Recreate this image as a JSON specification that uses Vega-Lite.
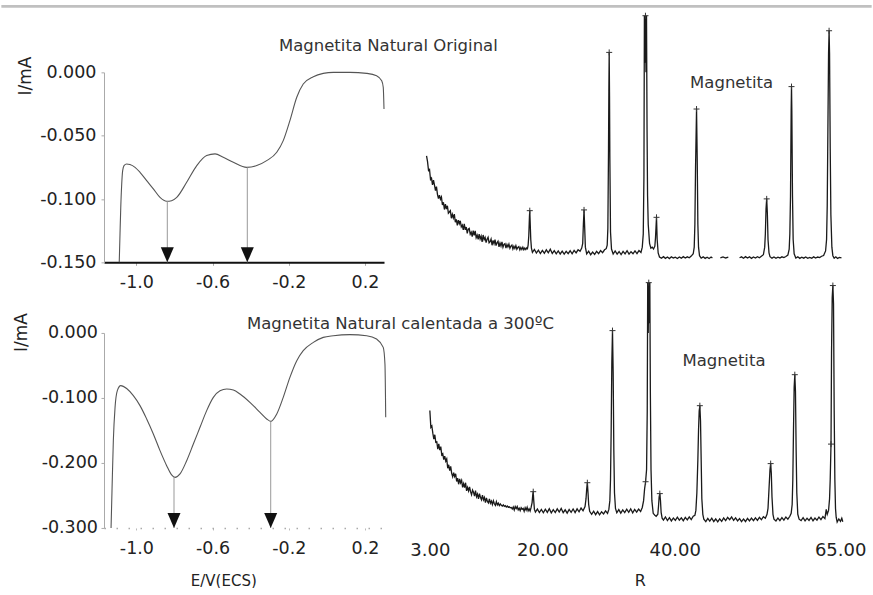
{
  "$schema": "https://vega.github.io/schema/vega-lite/v6.json",
  "background": "white",
  "padding": {"left": 0, "top": 4.35, "right": 0, "bottom": 0},
  "config": {
    "view": {"stroke": null},
    "font": "DejaVu Sans",
    "axis": {"labelFont": "DejaVu Sans", "labelFontSize": 17.5, "labelColor": "#222", "titleFont": "DejaVu Sans", "titleFontWeight": "normal", "titleColor": "#222", "grid": false, "labelFlush": false, "labelOverlap": false, "tickColor": "#999", "tickSize": 3, "domainColor": "#999", "domainWidth": 1}
  },
  "datasets": {
    "cv1": [
      {"E": -1.090, "I": -0.150}, {"E": -1.086, "I": -0.1276}, {"E": -1.082, "I": -0.1066}, {"E": -1.077, "I": -0.0881}, {"E": -1.072, "I": -0.0776}, {"E": -1.065, "I": -0.0736}, {"E": -1.051, "I": -0.0723}, {"E": -1.034, "I": -0.0728}, {"E": -1.007, "I": -0.0750}, {"E": -0.981, "I": -0.0789}, {"E": -0.946, "I": -0.0855}, {"E": -0.911, "I": -0.0920}, {"E": -0.876, "I": -0.0987}, {"E": -0.841, "I": -0.1018}, {"E": -0.815, "I": -0.1013}, {"E": -0.788, "I": -0.0987}, {"E": -0.736, "I": -0.0868}, {"E": -0.683, "I": -0.0736}, {"E": -0.631, "I": -0.0657}, {"E": -0.587, "I": -0.0644}, {"E": -0.544, "I": -0.0671}, {"E": -0.491, "I": -0.0710}, {"E": -0.421, "I": -0.0750}, {"E": -0.368, "I": -0.0736}, {"E": -0.316, "I": -0.0697}, {"E": -0.263, "I": -0.0631}, {"E": -0.229, "I": -0.0539}, {"E": -0.194, "I": -0.0381}, {"E": -0.158, "I": -0.0197}, {"E": -0.124, "I": -0.0092}, {"E": -0.071, "I": -0.0034}, {"E": -0.019, "I": -0.0008}, {"E": 0.034, "I": 0}, {"E": 0.121, "I": 0}, {"E": 0.209, "I": -0.0008}, {"E": 0.261, "I": -0.0026}, {"E": 0.288, "I": -0.0066}, {"E": 0.296, "I": -0.0118}, {"E": 0.300, "I": -0.0289}
    ],
    "cv2": [
      {"E": -1.133, "I": -0.300}, {"E": -1.128, "I": -0.2426}, {"E": -1.121, "I": -0.1657}, {"E": -1.112, "I": -0.1145}, {"E": -1.100, "I": -0.0888}, {"E": -1.082, "I": -0.0811}, {"E": -1.051, "I": -0.0855}, {"E": -1.016, "I": -0.0965}, {"E": -0.981, "I": -0.1118}, {"E": -0.946, "I": -0.1323}, {"E": -0.911, "I": -0.1554}, {"E": -0.876, "I": -0.1811}, {"E": -0.841, "I": -0.2042}, {"E": -0.815, "I": -0.2185}, {"E": -0.797, "I": -0.2222}, {"E": -0.771, "I": -0.2169}, {"E": -0.736, "I": -0.1965}, {"E": -0.701, "I": -0.1709}, {"E": -0.666, "I": -0.1452}, {"E": -0.631, "I": -0.1195}, {"E": -0.596, "I": -0.0991}, {"E": -0.561, "I": -0.0888}, {"E": -0.526, "I": -0.0862}, {"E": -0.491, "I": -0.0878}, {"E": -0.456, "I": -0.0940}, {"E": -0.404, "I": -0.1068}, {"E": -0.351, "I": -0.1222}, {"E": -0.316, "I": -0.1323}, {"E": -0.295, "I": -0.1360}, {"E": -0.263, "I": -0.1246}, {"E": -0.229, "I": -0.0991}, {"E": -0.194, "I": -0.0683}, {"E": -0.158, "I": -0.0426}, {"E": -0.124, "I": -0.0272}, {"E": -0.071, "I": -0.0145}, {"E": -0.019, "I": -0.0068}, {"E": 0.034, "I": -0.0042}, {"E": 0.121, "I": -0.0026}, {"E": 0.209, "I": -0.0042}, {"E": 0.261, "I": -0.0093}, {"E": 0.296, "I": -0.0222}, {"E": 0.305, "I": -0.0478}, {"E": 0.309, "I": -0.1298}
    ],
    "arrows1": [{"E": -0.8377, "I": -0.1018}, {"E": -0.4177, "I": -0.0750}],
    "arrows2": [{"E": -0.8025, "I": -0.2222}, {"E": -0.2948, "I": -0.1360}],
    "xrd1": [
      {"t":2.5,"v":56.0},{"t":2.65,"v":53.0},{"t":2.8,"v":48.3},{"t":2.95,"v":48.9},{"t":3.1,"v":43.6},{"t":3.25,"v":44.3},{"t":3.4,"v":40.8},{"t":3.55,"v":43.3},{"t":3.7,"v":40.7},{"t":3.85,"v":37.7},{"t":4.0,"v":39.9},{"t":4.15,"v":35.8},{"t":4.3,"v":33.5},{"t":4.45,"v":35.4},{"t":4.6,"v":33.2},{"t":4.75,"v":34.4},{"t":4.9,"v":30.2},{"t":5.05,"v":31.6},{"t":5.2,"v":27.8},{"t":5.35,"v":30.6},{"t":5.5,"v":28.0},{"t":5.65,"v":29.8},{"t":5.8,"v":25.9},{"t":5.95,"v":26.5},{"t":6.1,"v":27.2},{"t":6.25,"v":23.2},{"t":6.4,"v":25.3},{"t":6.55,"v":23.4},{"t":6.7,"v":25.4},{"t":6.85,"v":21.1},{"t":7.0,"v":22.6},{"t":7.15,"v":19.4},{"t":7.3,"v":22.2},{"t":7.45,"v":20.3},{"t":7.6,"v":21.9},{"t":7.75,"v":18.7},{"t":7.9,"v":19.6},{"t":8.05,"v":17.1},{"t":8.2,"v":20.3},{"t":8.35,"v":17.1},{"t":8.5,"v":18.6},{"t":8.65,"v":15.2},{"t":8.8,"v":17.5},{"t":8.95,"v":17.9},{"t":9.1,"v":14.8},{"t":9.25,"v":15.9},{"t":9.4,"v":13.5},{"t":9.55,"v":16.7},{"t":9.7,"v":14.2},{"t":9.85,"v":16.6},{"t":10.0,"v":13.0},{"t":10.15,"v":14.3},{"t":10.3,"v":12.1},{"t":10.45,"v":14.9},{"t":10.6,"v":12.3},{"t":10.75,"v":13.8},{"t":10.9,"v":10.8},{"t":11.05,"v":14.4},{"t":11.2,"v":11.9},{"t":11.35,"v":13.1},{"t":11.5,"v":10.4},{"t":11.65,"v":12.2},{"t":11.8,"v":13.2},{"t":11.95,"v":10.3},{"t":12.1,"v":10.9},{"t":12.25,"v":12.3},{"t":12.4,"v":9.0},{"t":12.55,"v":11.6},{"t":12.7,"v":9.8},{"t":12.85,"v":12.0},{"t":13.0,"v":8.8},{"t":13.15,"v":10.3},{"t":13.3,"v":11.1},{"t":13.45,"v":8.2},{"t":13.6,"v":10.2},{"t":13.75,"v":8.6},{"t":13.9,"v":10.8},{"t":14.05,"v":8.0},{"t":14.2,"v":9.5},{"t":14.35,"v":9.9},{"t":14.5,"v":7.5},{"t":14.65,"v":9.4},{"t":14.8,"v":8.1},{"t":14.95,"v":9.6},{"t":15.1,"v":7.4},{"t":15.25,"v":8.6},{"t":15.4,"v":9.1},{"t":15.55,"v":7.0},{"t":15.7,"v":8.5},{"t":15.85,"v":7.3},{"t":16.0,"v":8.8},{"t":16.15,"v":6.9},{"t":16.3,"v":7.8},{"t":16.45,"v":8.3},{"t":16.6,"v":6.6},{"t":16.75,"v":7.8},{"t":16.9,"v":6.8},{"t":17.05,"v":8.0},{"t":17.2,"v":6.6},{"t":17.35,"v":7.5},{"t":17.5,"v":6.7},{"t":17.65,"v":7.6},{"t":17.75,"v":7.2},
      {"t":17.85,"v":9.0},{"t":17.95,"v":14.0},{"t":18.05,"v":24.0},{"t":18.1,"v":27.2,"pk":1},{"t":18.15,"v":22.0},{"t":18.25,"v":12.0},{"t":18.35,"v":7.5},
      {"t":18.5,"v":5.2},{"t":18.8,"v":6.8},{"t":19.1,"v":4.9},{"t":19.4,"v":6.4},{"t":19.7,"v":4.6},{"t":20.0,"v":6.3},{"t":20.3,"v":4.8},{"t":20.6,"v":6.6},{"t":20.9,"v":5.0},{"t":21.2,"v":6.9},{"t":21.5,"v":4.7},{"t":21.8,"v":6.2},{"t":22.1,"v":4.5},{"t":22.4,"v":6.0},{"t":22.7,"v":4.4},{"t":23.0,"v":5.9},{"t":23.3,"v":4.3},{"t":23.6,"v":5.8},{"t":23.9,"v":4.6},{"t":24.2,"v":6.1},{"t":24.5,"v":4.5},{"t":24.8,"v":6.3},{"t":25.1,"v":5.0},{"t":25.4,"v":6.6},{"t":25.7,"v":5.8},{"t":25.95,"v":7.5},
      {"t":26.1,"v":10},{"t":26.2,"v":20},{"t":26.3,"v":27.6,"pk":1},{"t":26.4,"v":18},{"t":26.5,"v":8},
      {"t":26.7,"v":4.4},{"t":27.0,"v":5.9},{"t":27.3,"v":4.0},{"t":27.6,"v":5.4},{"t":27.9,"v":4.2},{"t":28.2,"v":5.8},{"t":28.5,"v":4.6},{"t":28.8,"v":6.2},{"t":29.1,"v":5.1},{"t":29.4,"v":6.6},{"t":29.65,"v":7.2},
      {"t":29.8,"v":9},{"t":29.9,"v":18},{"t":30.0,"v":60},{"t":30.05,"v":90},{"t":30.1,"v":110.5,"pk":1},{"t":30.15,"v":88},{"t":30.2,"v":55},{"t":30.3,"v":16},{"t":30.45,"v":7},
      {"t":30.7,"v":4.4},{"t":31.0,"v":6.0},{"t":31.3,"v":4.3},{"t":31.6,"v":5.7},{"t":31.9,"v":4.1},{"t":32.2,"v":5.8},{"t":32.5,"v":4.5},{"t":32.8,"v":6.1},{"t":33.1,"v":4.3},{"t":33.4,"v":5.6},{"t":33.7,"v":4.5},{"t":34.0,"v":6.0},{"t":34.3,"v":4.6},{"t":34.6,"v":6.2},{"t":34.9,"v":5.2},
      {"t":35.1,"v":8},{"t":35.25,"v":15},{"t":35.35,"v":45},{"t":35.42,"v":129.8},{"t":35.5,"v":105},{"t":35.58,"v":129.8,"pk":1},{"t":35.66,"v":100},{"t":35.74,"v":129.8},{"t":35.82,"v":70},{"t":35.9,"v":35},{"t":36.0,"v":20},{"t":36.2,"v":10},{"t":36.4,"v":7.5},{"t":36.6,"v":8.0},{"t":36.8,"v":7.0},{"t":37.0,"v":8.5},
      {"t":37.1,"v":13},{"t":37.25,"v":23.7,"pk":1},{"t":37.35,"v":12},{"t":37.5,"v":5},
      {"t":37.7,"v":2.8},{"t":38.0,"v":2.2},{"t":38.3,"v":3.0},{"t":38.6,"v":2.1},{"t":38.9,"v":2.8},{"t":39.2,"v":2.0},{"t":39.5,"v":2.9},{"t":39.8,"v":2.3},{"t":40.1,"v":2.7},{"t":40.4,"v":2.0},{"t":40.7,"v":2.8},{"t":41.0,"v":2.2},{"t":41.3,"v":3.0},{"t":41.6,"v":2.3},{"t":41.9,"v":2.9},{"t":42.2,"v":2.4},{"t":42.5,"v":3.3},{"t":42.8,"v":4.5},
      {"t":42.95,"v":8},{"t":43.05,"v":20},{"t":43.15,"v":50},{"t":43.3,"v":80.7,"pk":1},{"t":43.4,"v":55},{"t":43.5,"v":20},{"t":43.6,"v":8},{"t":43.75,"v":3.5},
      {"t":44.0,"v":2.2},{"t":44.3,"v":2.9},{"t":44.6,"v":2.1},{"t":44.9,"v":2.7},{"t":45.2,"v":2.0},{"t":45.5,"v":2.8},{"t":45.7,"v":2.3},
      {"t":46.9,"v":2.4,"s":2},{"t":47.3,"v":2.9,"s":2},{"t":47.7,"v":2.3,"s":2},{"t":48.1,"v":2.7,"s":2},
      {"t":49.8,"v":2.4,"s":3},{"t":50.1,"v":2.9,"s":3},{"t":50.4,"v":2.2,"s":3},{"t":50.7,"v":3.0,"s":3},{"t":51.0,"v":2.3,"s":3},{"t":51.3,"v":2.9,"s":3},{"t":51.6,"v":2.1,"s":3},{"t":51.9,"v":2.8,"s":3},{"t":52.2,"v":2.3,"s":3},{"t":52.5,"v":3.0,"s":3},{"t":52.8,"v":2.4,"s":3},{"t":53.1,"v":3.2,"s":3},{"t":53.4,"v":4.0,"s":3},{"t":53.6,"v":8,"s":3},
      {"t":53.7,"v":15,"s":3},{"t":53.8,"v":28,"s":3},{"t":53.9,"v":33.4,"pk":1,"s":3},{"t":54.0,"v":26,"s":3},{"t":54.1,"v":12,"s":3},{"t":54.25,"v":5,"s":3},{"t":54.4,"v":3.0,"s":3},
      {"t":54.7,"v":2.2,"s":3},{"t":55.0,"v":2.8,"s":3},{"t":55.3,"v":2.1,"s":3},{"t":55.6,"v":2.7,"s":3},{"t":55.9,"v":2.3,"s":3},{"t":56.2,"v":2.9,"s":3},{"t":56.5,"v":2.5,"s":3},{"t":56.8,"v":3.1,"s":3},{"t":57.1,"v":3.8,"s":3},{"t":57.3,"v":7,"s":3},
      {"t":57.4,"v":15,"s":3},{"t":57.5,"v":35,"s":3},{"t":57.6,"v":80,"s":3},{"t":57.65,"v":92.5,"pk":1,"s":3},{"t":57.7,"v":80,"s":3},{"t":57.8,"v":35,"s":3},{"t":57.9,"v":12,"s":3},{"t":58.05,"v":4.5,"s":3},
      {"t":58.3,"v":2.3,"s":3},{"t":58.6,"v":2.9,"s":3},{"t":58.9,"v":2.1,"s":3},{"t":59.2,"v":2.7,"s":3},{"t":59.5,"v":2.2,"s":3},{"t":59.8,"v":2.8,"s":3},{"t":60.1,"v":2.1,"s":3},{"t":60.4,"v":2.6,"s":3},{"t":60.7,"v":2.2,"s":3},{"t":61.0,"v":2.9,"s":3},{"t":61.3,"v":2.3,"s":3},{"t":61.6,"v":2.8,"s":3},{"t":61.9,"v":2.5,"s":3},{"t":62.2,"v":3.2,"s":3},{"t":62.5,"v":3.6,"s":3},{"t":62.8,"v":6,"s":3},
      {"t":62.95,"v":12,"s":3},{"t":63.05,"v":30,"s":3},{"t":63.15,"v":70,"s":3},{"t":63.25,"v":110,"s":3},{"t":63.33,"v":121.9,"pk":1,"s":3},{"t":63.4,"v":110,"s":3},{"t":63.5,"v":60,"s":3},{"t":63.6,"v":25,"s":3},{"t":63.75,"v":8,"s":3},{"t":63.9,"v":3.5,"s":3},
      {"t":64.1,"v":2.2,"s":3},{"t":64.35,"v":2.9,"s":3},{"t":64.6,"v":2.1,"s":3},{"t":64.9,"v":2.6,"s":3},{"t":65.2,"v":2.3,"s":3}
    ],
    "xrd2": [
      {"t":3.0,"v":60.2},{"t":3.15,"v":51.6},{"t":3.3,"v":52.3},{"t":3.45,"v":48.6},{"t":3.6,"v":45.6},{"t":3.75,"v":47.8},{"t":3.9,"v":43.9},{"t":4.05,"v":44.1},{"t":4.2,"v":40.4},{"t":4.35,"v":43.1},{"t":4.5,"v":39.9},{"t":4.65,"v":41.7},{"t":4.8,"v":37.5},{"t":4.95,"v":38.1},{"t":5.1,"v":35.0},{"t":5.25,"v":36.8},{"t":5.4,"v":34.3},{"t":5.55,"v":35.4},{"t":5.7,"v":30.6},{"t":5.85,"v":32.4},{"t":6.0,"v":29.4},{"t":6.15,"v":31.6},{"t":6.3,"v":28.0},{"t":6.45,"v":26.3},{"t":6.6,"v":28.4},{"t":6.75,"v":26.4},{"t":6.9,"v":27.8},{"t":7.05,"v":23.8},{"t":7.2,"v":25.5},{"t":7.35,"v":22.4},{"t":7.5,"v":25.2},{"t":7.65,"v":23.1},{"t":7.8,"v":24.4},{"t":7.95,"v":20.8},{"t":8.1,"v":22.7},{"t":8.25,"v":20.7},{"t":8.4,"v":23.2},{"t":8.55,"v":19.0},{"t":8.7,"v":20.8},{"t":8.85,"v":19.0},{"t":9.0,"v":21.0},{"t":9.15,"v":18.6},{"t":9.3,"v":17.0},{"t":9.45,"v":19.4},{"t":9.6,"v":18.3},{"t":9.75,"v":16.3},{"t":9.9,"v":19.1},{"t":10.05,"v":16.0},{"t":10.2,"v":17.4},{"t":10.35,"v":14.9},{"t":10.5,"v":17.6},{"t":10.65,"v":15.7},{"t":10.8,"v":14.4},{"t":10.95,"v":16.8},{"t":11.1,"v":14.4},{"t":11.25,"v":15.6},{"t":11.4,"v":13.0},{"t":11.55,"v":15.4},{"t":11.7,"v":13.6},{"t":11.85,"v":12.8},{"t":12.0,"v":14.9},{"t":12.15,"v":12.7},{"t":12.3,"v":13.8},{"t":12.45,"v":12.0},{"t":12.6,"v":13.9},{"t":12.75,"v":12.4},{"t":12.9,"v":11.6},{"t":13.05,"v":13.5},{"t":13.2,"v":11.8},{"t":13.35,"v":12.7},{"t":13.5,"v":11.5},{"t":13.65,"v":12.3},{"t":13.8,"v":11.6},{"t":13.95,"v":11.2},{"t":14.1,"v":11.85},{"t":14.25,"v":11.1},{"t":14.4,"v":11.45},{"t":14.55,"v":10.7},{"t":14.7,"v":11.25},{"t":14.85,"v":10.65},{"t":15.0,"v":10.9},{"t":15.15,"v":10.35},{"t":15.3,"v":10.5},{"t":15.45,"v":9.75},{"t":15.6,"v":10.75},{"t":15.75,"v":9.2},{"t":15.9,"v":10.95},{"t":16.05,"v":9.95},{"t":16.2,"v":10.95},{"t":16.35,"v":9.3},{"t":16.5,"v":10.15},{"t":16.65,"v":8.85},{"t":16.8,"v":10.35},{"t":16.95,"v":9.6},{"t":17.1,"v":10.0},{"t":17.25,"v":8.55},{"t":17.4,"v":10.35},{"t":17.55,"v":9.15},{"t":17.7,"v":10.6},{"t":17.85,"v":8.75},{"t":18.0,"v":9.8},{"t":18.15,"v":8.65},{"t":18.3,"v":10.5},
      {"t":18.45,"v":13},{"t":18.55,"v":17},{"t":18.62,"v":18.6,"pk":1},{"t":18.7,"v":14},{"t":18.8,"v":9.5},
      {"t":18.95,"v":8.1},{"t":19.25,"v":9.7},{"t":19.55,"v":7.9},{"t":19.85,"v":9.5},{"t":20.15,"v":7.8},{"t":20.45,"v":9.6},{"t":20.75,"v":8.0},{"t":21.05,"v":9.9},{"t":21.35,"v":7.7},{"t":21.65,"v":9.4},{"t":21.95,"v":7.9},{"t":22.25,"v":9.8},{"t":22.55,"v":8.2},{"t":22.85,"v":10.0},{"t":23.15,"v":7.8},{"t":23.45,"v":9.3},{"t":23.75,"v":7.6},{"t":24.05,"v":9.5},{"t":24.35,"v":8.0},{"t":24.65,"v":9.7},{"t":24.95,"v":7.9},{"t":25.25,"v":9.8},{"t":25.55,"v":8.3},{"t":25.85,"v":10.2},{"t":26.15,"v":8.8},{"t":26.45,"v":11},
      {"t":26.6,"v":15},{"t":26.7,"v":20},{"t":26.8,"v":23.2,"pk":1},{"t":26.9,"v":18},{"t":27.0,"v":12},{"t":27.15,"v":8.5},
      {"t":27.45,"v":7.0},{"t":27.75,"v":8.6},{"t":28.05,"v":6.8},{"t":28.35,"v":8.4},{"t":28.65,"v":6.7},{"t":28.95,"v":8.3},{"t":29.25,"v":7.2},{"t":29.55,"v":8.8},{"t":29.85,"v":7.5},{"t":30.05,"v":9.5},
      {"t":30.2,"v":14},{"t":30.3,"v":25},{"t":30.4,"v":50},{"t":30.5,"v":85},{"t":30.6,"v":101.2,"pk":1},{"t":30.7,"v":80},{"t":30.8,"v":40},{"t":30.9,"v":18},{"t":31.05,"v":10},
      {"t":31.25,"v":7.8},{"t":31.55,"v":9.4},{"t":31.85,"v":7.6},{"t":32.15,"v":9.3},{"t":32.45,"v":7.9},{"t":32.75,"v":9.6},{"t":33.05,"v":8.0},{"t":33.35,"v":9.8},{"t":33.65,"v":7.7},{"t":33.95,"v":9.5},{"t":34.25,"v":8.1},{"t":34.55,"v":9.7},{"t":34.85,"v":8.4},{"t":35.1,"v":10.5},
      {"t":35.3,"v":14},{"t":35.45,"v":20},{"t":35.6,"v":23.7,"pk":1},{"t":35.75,"v":30},{"t":35.85,"v":60},{"t":35.92,"v":125.8},{"t":36.0,"v":100},{"t":36.08,"v":125.8,"pk":1},{"t":36.16,"v":105},{"t":36.24,"v":125.8},{"t":36.32,"v":70},{"t":36.42,"v":30},{"t":36.55,"v":14},{"t":36.75,"v":7.5},{"t":37.0,"v":6.5},{"t":37.2,"v":6.0},
      {"t":37.45,"v":7},{"t":37.55,"v":11},{"t":37.65,"v":16},{"t":37.75,"v":17.6,"pk":1},{"t":37.85,"v":14},{"t":37.95,"v":8},{"t":38.1,"v":5},
      {"t":38.3,"v":4.0},{"t":38.6,"v":5.6},{"t":38.9,"v":3.8},{"t":39.2,"v":5.3},{"t":39.5,"v":3.6},{"t":39.8,"v":5.1},{"t":40.1,"v":3.9},{"t":40.4,"v":5.5},{"t":40.7,"v":4.0},{"t":41.0,"v":5.2},{"t":41.3,"v":3.7},{"t":41.6,"v":5.4},{"t":41.9,"v":4.1},{"t":42.2,"v":5.7},{"t":42.5,"v":4.3},{"t":42.8,"v":6.0},{"t":43.05,"v":6.5},
      {"t":43.2,"v":9},{"t":43.35,"v":18},{"t":43.5,"v":35},{"t":43.6,"v":50},{"t":43.7,"v":60},{"t":43.8,"v":62.7,"pk":1},{"t":43.9,"v":55},{"t":44.0,"v":35},{"t":44.1,"v":15},{"t":44.25,"v":7},{"t":44.4,"v":4.5},
      {"t":44.7,"v":3.2},{"t":45.0,"v":4.9},{"t":45.3,"v":3.5},{"t":45.6,"v":5.0},{"t":45.9,"v":3.3},{"t":46.2,"v":4.6},{"t":46.5,"v":3.1},{"t":46.8,"v":4.7},{"t":47.1,"v":3.4},{"t":47.4,"v":5.1},{"t":47.7,"v":3.8},{"t":48.0,"v":5.4},{"t":48.3,"v":4.2},{"t":48.6,"v":5.6},{"t":48.9,"v":3.9},{"t":49.2,"v":5.2},{"t":49.5,"v":3.6},{"t":49.8,"v":4.8},{"t":50.1,"v":3.2},{"t":50.4,"v":4.6},{"t":50.7,"v":3.3},{"t":51.0,"v":4.9},{"t":51.3,"v":3.6},{"t":51.6,"v":5.0},{"t":51.9,"v":3.7},{"t":52.2,"v":5.2},{"t":52.5,"v":3.9},{"t":52.8,"v":5.4},{"t":53.1,"v":4.2},{"t":53.4,"v":5.8},{"t":53.7,"v":5.0},{"t":53.95,"v":7},
      {"t":54.1,"v":10},{"t":54.25,"v":20},{"t":54.4,"v":30},{"t":54.5,"v":33.0,"pk":1},{"t":54.6,"v":28},{"t":54.7,"v":16},{"t":54.85,"v":7},{"t":55.0,"v":4.5},
      {"t":55.3,"v":3.6},{"t":55.6,"v":5.1},{"t":55.9,"v":3.8},{"t":56.2,"v":5.3},{"t":56.5,"v":4.0},{"t":56.8,"v":5.6},{"t":57.1,"v":4.5},{"t":57.4,"v":6.0},{"t":57.6,"v":7.5},
      {"t":57.75,"v":12},{"t":57.85,"v":25},{"t":57.95,"v":50},{"t":58.05,"v":72},{"t":58.15,"v":78.6,"pk":1},{"t":58.25,"v":70},{"t":58.35,"v":40},{"t":58.45,"v":18},{"t":58.6,"v":7},{"t":58.8,"v":4.5},
      {"t":59.1,"v":3.8},{"t":59.4,"v":5.3},{"t":59.7,"v":3.6},{"t":60.0,"v":5.0},{"t":60.3,"v":3.9},{"t":60.6,"v":5.4},{"t":60.9,"v":3.7},{"t":61.2,"v":5.1},{"t":61.5,"v":4.0},{"t":61.8,"v":5.6},{"t":62.1,"v":4.3},{"t":62.4,"v":5.9},{"t":62.7,"v":4.8},{"t":62.9,"v":9.5},{"t":63.05,"v":7},{"t":63.25,"v":9},
      {"t":63.4,"v":15},{"t":63.5,"v":25},{"t":63.62,"v":43,"pk":1},{"t":63.7,"v":90},{"t":63.8,"v":118},{"t":63.9,"v":124.3,"pk":1},{"t":64.0,"v":115},{"t":64.1,"v":60},{"t":64.2,"v":25},{"t":64.3,"v":10},{"t":64.4,"v":5.5},
      {"t":64.55,"v":3.0},{"t":64.8,"v":4.6},{"t":65.05,"v":3.4},{"t":65.25,"v":5.0},{"t":65.4,"v":3.2}
    ]
  },
  "bounds": "flush",
  "columns": 2,
  "spacing": {"row": 70.6, "column": 26},
  "concat": [
    {
      "width": 280, "height": 190,
      "layer": [
        {
          "data": {"name": "cv1"},
          "mark": {"type": "line", "color": "#555", "strokeWidth": 1.1, "interpolate": "monotone"},
          "encoding": {
            "x": {"field": "E", "type": "quantitative", "scale": {"domain": [-1.17, 0.30], "nice": false, "zero": false},
              "axis": {"title": null, "values": [-1, -0.6, -0.2, 0.2],
                "labelExpr": "(datum.value < 0 ? '-' : '') + format(abs(datum.value), '.1f')",
                "labelOverlap": false, "labelFlush": false,
                "domainColor": "#111", "domainWidth": 2, "tickColor": "#aaa", "tickSize": 3, "labelPadding": 22.3, "labelBaseline": "alphabetic", "labelAlign": "center"}},
            "y": {"field": "I", "type": "quantitative", "scale": {"domain": [-0.15, 0], "nice": false, "zero": false},
              "axis": {"title": "I/mA", "values": [0, -0.025, -0.05, -0.075, -0.1, -0.125, -0.15],
                "labelExpr": "abs(round(datum.value * 1000)) % 50 == 0 ? (datum.value < 0 ? '-' : '') + format(abs(datum.value), '.3f') : ''",
                "labelOverlap": false, "labelFlush": false,
                "titleAngle": -90, "titleX": -79, "titleY": 3.3, "titleAlign": "center", "titleBaseline": "middle", "titleFontSize": 17,
                "domainColor": "#aaa", "tickColor": "#aaa", "tickSize": 3, "labelPadding": 5, "labelBaseline": "middle"}}
          }
        },
        {
          "data": {"name": "arrows1"},
          "mark": {"type": "rule", "color": "#999", "strokeWidth": 1},
          "encoding": {"x": {"field": "E", "type": "quantitative"}, "y": {"field": "I", "type": "quantitative"}, "y2": {"datum": -0.15}}
        },
        {
          "data": {"name": "arrows1"},
          "mark": {"type": "point", "shape": "M-0.867,-1L0.867,-1L0,1Z", "size": 225, "filled": true, "color": "#111", "opacity": 1, "yOffset": -7.5},
          "encoding": {"x": {"field": "E", "type": "quantitative"}, "y": {"datum": -0.15}}
        },
        {
          "data": {"values": [{}]},
          "mark": {"type": "text", "text": "Magnetita Natural Original", "align": "left", "baseline": "alphabetic", "fontSize": 16.5, "font": "DejaVu Sans", "color": "#333"},
          "encoding": {"x": {"datum": -0.2513}, "y": {"datum": 0.0171}}
        },
        {
          "data": {"values": [{}]},
          "mark": {"type": "rule", "color": "#c0c0c0", "strokeWidth": 2.7},
          "encoding": {"x": {"datum": -1.7089}, "x2": {"datum": 2.8602}, "y": {"datum": 0.0521}}
        }
      ]
    },
    {
      "width": 450, "height": 190,
      "layer": [
        {
          "data": {"name": "xrd1"},
          "mark": {"type": "line", "color": "#1a1a1a", "strokeWidth": 1.3},
          "encoding": {
            "x": {"field": "t", "type": "quantitative", "scale": {"domain": [0, 68], "nice": false, "zero": false}, "axis": null},
            "y": {"field": "v", "type": "quantitative", "scale": {"domain": [0, 100], "nice": false, "zero": false}, "axis": null},
            "detail": {"field": "s", "type": "nominal"}
          }
        },
        {
          "data": {"name": "xrd1"},
          "transform": [{"filter": "datum.pk == 1"}],
          "mark": {"type": "point", "shape": "M-1,0L1,0M0,-1L0,1", "size": 36, "filled": false, "color": "#333", "strokeWidth": 1, "opacity": 1},
          "encoding": {"x": {"field": "t", "type": "quantitative", "axis": null}, "y": {"field": "v", "type": "quantitative", "axis": null}}
        },
        {
          "data": {"values": [{}]},
          "mark": {"type": "text", "text": "Magnetita", "align": "center", "baseline": "alphabetic", "fontSize": 16.5, "font": "DejaVu Sans", "color": "#333"},
          "encoding": {"x": {"datum": 48.6, "axis": null}, "y": {"datum": 91.8, "axis": null}}
        }
      ]
    },
    {
      "width": 280, "height": 195,
      "layer": [
        {
          "data": {"name": "cv2"},
          "mark": {"type": "line", "color": "#555", "strokeWidth": 1.1, "interpolate": "monotone"},
          "encoding": {
            "x": {"field": "E", "type": "quantitative", "scale": {"domain": [-1.17, 0.30], "nice": false, "zero": false},
              "axis": {"title": "E/V(ECS)", "values": [-1, -0.6, -0.2, 0.2],
                "labelExpr": "(datum.value < 0 ? '-' : '') + format(abs(datum.value), '.1f')",
                "labelOverlap": false, "labelFlush": false,
                "domainColor": "#aaa", "domainWidth": 1.5, "domainDash": [1.5, 10.5], "tickColor": "#bbb", "tickSize": 2, "labelPadding": 24, "labelBaseline": "alphabetic", "labelAlign": "center",
                "titleX": 119.3, "titleY": 57.2, "titleAlign": "center", "titleBaseline": "alphabetic", "titleFontSize": 15}},
            "y": {"field": "I", "type": "quantitative", "scale": {"domain": [-0.3, 0], "nice": false, "zero": false},
              "axis": {"title": "I/mA", "values": [0, -0.05, -0.1, -0.15, -0.2, -0.25, -0.3],
                "labelExpr": "abs(round(datum.value * 1000)) % 100 == 0 ? (datum.value < 0 ? '-' : '') + format(abs(datum.value), '.3f') : ''",
                "labelOverlap": false, "labelFlush": false,
                "titleAngle": -90, "titleX": -83, "titleY": -0.8, "titleAlign": "center", "titleBaseline": "middle", "titleFontSize": 17,
                "domainColor": "#aaa", "tickColor": "#aaa", "tickSize": 3, "labelPadding": 3.5, "labelBaseline": "middle"}}
          }
        },
        {
          "data": {"name": "arrows2"},
          "mark": {"type": "rule", "color": "#999", "strokeWidth": 1},
          "encoding": {"x": {"field": "E", "type": "quantitative"}, "y": {"field": "I", "type": "quantitative"}, "y2": {"datum": -0.3}}
        },
        {
          "data": {"name": "arrows2"},
          "mark": {"type": "point", "shape": "M-0.867,-1L0.867,-1L0,1Z", "size": 225, "filled": true, "color": "#111", "opacity": 1, "yOffset": -7.5},
          "encoding": {"x": {"field": "E", "type": "quantitative"}, "y": {"datum": -0.3}}
        },
        {
          "data": {"values": [{}]},
          "mark": {"type": "text", "text": "Magnetita Natural calentada a 300ºC", "align": "left", "baseline": "alphabetic", "fontSize": 16.5, "font": "DejaVu Sans", "color": "#333"},
          "encoding": {"x": {"datum": -0.4193}, "y": {"datum": 0.00615}}
        }
      ]
    },
    {
      "width": 450, "height": 195,
      "layer": [
        {
          "data": {"name": "xrd2"},
          "mark": {"type": "line", "color": "#1a1a1a", "strokeWidth": 1.3},
          "encoding": {
            "x": {"field": "t", "type": "quantitative", "scale": {"domain": [0, 68], "nice": false, "zero": false},
              "axis": {"title": "R", "values": [3, 20, 40, 65], "format": ".2f", "domain": false, "ticks": false, "tickSize": 0, "labelPadding": 27.7, "labelBaseline": "alphabetic", "labelAlign": "center", "labelFontSize": 18, "labelOverlap": false, "labelFlush": false,
                "titleX": 229.8, "titleY": 57.2, "titleAlign": "center", "titleBaseline": "alphabetic", "titleFontSize": 16}},
            "y": {"field": "v", "type": "quantitative", "scale": {"domain": [0, 100], "nice": false, "zero": false}, "axis": null}
          }
        },
        {
          "data": {"name": "xrd2"},
          "transform": [{"filter": "datum.pk == 1"}],
          "mark": {"type": "point", "shape": "M-1,0L1,0M0,-1L0,1", "size": 36, "filled": false, "color": "#333", "strokeWidth": 1, "opacity": 1},
          "encoding": {"x": {"field": "t", "type": "quantitative"}, "y": {"field": "v", "type": "quantitative", "axis": null}}
        },
        {
          "data": {"values": [{}]},
          "mark": {"type": "text", "text": "Magnetita", "align": "center", "baseline": "alphabetic", "fontSize": 16.5, "font": "DejaVu Sans", "color": "#333"},
          "encoding": {"x": {"datum": 47.45}, "y": {"datum": 83.2, "axis": null}}
        }
      ]
    }
  ]
}
